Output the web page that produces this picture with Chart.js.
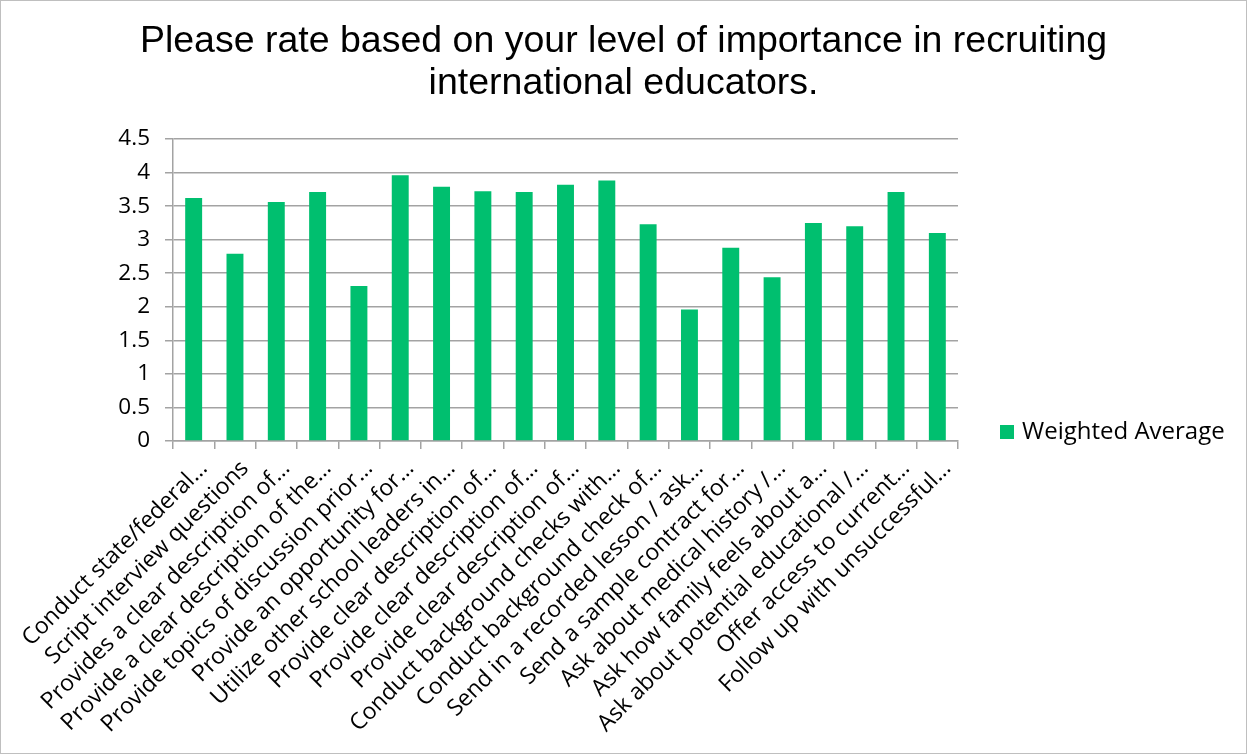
<!DOCTYPE html>
<html>
<head>
<meta charset="utf-8">
<script src="https://cdn.jsdelivr.net/npm/chart.js@4.4.0/dist/chart.umd.min.js"></script>
<style>
  html, body { margin: 0; padding: 0; background: #fff; }
  #wrap {
    width: 1247px; height: 754px; box-sizing: border-box;
    border: 1px solid #bfbfbf; position: relative;
  }
</style>
</head>
<body>
<div id="wrap"><canvas id="rateChart"></canvas></div>
<script>
const titleLines = [
    'Please rate based on your level of importance in recruiting',
    'international educators.'
];

const practices = [
    'Conduct state/federal…',
    'Script interview questions',
    'Provides a clear description of…',
    'Provide a clear description of the…',
    'Provide topics of discussion prior…',
    'Provide an opportunity for…',
    'Utilize other school leaders in…',
    'Provide clear description of…',
    'Provide clear description of…',
    'Provide clear description of…',
    'Conduct background checks with…',
    'Conduct background check of…',
    'Send in a recorded lesson / ask…',
    'Send a sample contract for…',
    'Ask about medical history /…',
    'Ask how family feels about a…',
    'Ask about potential educational /…',
    'Offer access to current…',
    'Follow up with unsuccessful…'
];

const weightedAverage = [
    3.62, 2.79, 3.56, 3.71, 2.31, 3.96, 3.79, 3.72, 3.71, 3.82,
    3.88, 3.23, 1.96, 2.88, 2.44, 3.25, 3.20, 3.71, 3.10
];

const yTicks = [0, 0.5, 1, 1.5, 2, 2.5, 3, 3.5, 4, 4.5];

const barColor = '#00bf6f';
const gridColor = '#a3a3a3';
const labelFont = '"Open Sans", Lato, sans-serif';

// single-entry legend drawn to the right of the plot, near its bottom
const sideLegend = {
    id: 'sideLegend',
    afterDraw(chart) {
        const { ctx, chartArea } = chart;
        const ds = chart.data.datasets[0];
        const x = chartArea.right + 42;
        const y = chartArea.bottom - 9;
        ctx.save();
        ctx.fillStyle = ds.backgroundColor;
        ctx.fillRect(x, y - 7, 14, 14);
        ctx.fillStyle = '#000';
        ctx.font = '24px ' + labelFont;
        ctx.textBaseline = 'middle';
        ctx.fillText(ds.label, x + 22, y);
        ctx.restore();
    }
};

const ctx = document.getElementById('rateChart').getContext('2d');

new Chart(ctx, {
    type: 'bar',
    data: {
        labels: practices,
        datasets: [{
            label: 'Weighted Average',
            data: weightedAverage,
            backgroundColor: barColor,
            borderWidth: 0,
            categoryPercentage: 1,
            barPercentage: 0.41
        }]
    },
    options: {
        responsive: true,
        maintainAspectRatio: false,
        animation: false,
        layout: {
            padding: { left: 20, right: 20, top: 0, bottom: 0 }
        },
        plugins: {
            legend: { display: false },
            tooltip: { enabled: false },
            title: {
                display: true,
                text: titleLines,
                color: '#000',
                font: { family: '"Liberation Sans", Arial, sans-serif', size: 37.5, weight: 'normal', lineHeight: 1.12 },
                padding: { top: 20, bottom: 34 }
            }
        },
        scales: {
            x: {
                afterFit(scale) { scale.height = 312; },
                grid: {
                    offset: true,
                    drawOnChartArea: false,
                    drawTicks: true,
                    tickLength: 8,
                    color: gridColor,
                    lineWidth: 1.5
                },
                border: { color: gridColor, width: 1.5 },
                ticks: {
                    autoSkip: false,
                    minRotation: 45,
                    maxRotation: 45,
                    color: '#000',
                    padding: 6,
                    labelOffset: 10,
                    font: { family: labelFont, size: 23 }
                }
            },
            y: {
                min: 0,
                max: 4.5,
                afterFit(scale) { scale.width = 152; },
                afterBuildTicks(scale) {
                    scale.ticks = yTicks.map(v => ({ value: v }));
                },
                grid: {
                    color: gridColor,
                    lineWidth: 1.5,
                    tickLength: 8
                },
                border: { color: gridColor, width: 1.5 },
                ticks: {
                    color: '#000',
                    padding: 15,
                    font: { family: labelFont, size: 22.5 },
                    callback: v => String(v)
                }
            },
            // empty right-hand axis that reserves room for the legend
            yLegendSpace: {
                type: 'linear',
                position: 'right',
                afterFit(scale) { scale.width = 268; },
                grid: { display: false },
                border: { display: false },
                ticks: { display: false }
            }
        }
    },
    plugins: [sideLegend]
});
</script>
</body>
</html>
